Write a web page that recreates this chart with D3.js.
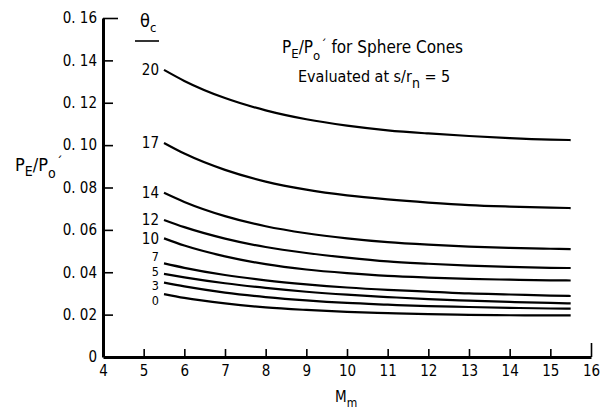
<!DOCTYPE html>
<html>
<head>
<meta charset="utf-8">
<script src="https://cdn.jsdelivr.net/npm/d3@7"></script>
<style>
  body { margin: 0; background: #fff; }
  svg { display: block; }
  text { font-family: "DejaVu Sans Condensed", "Liberation Sans Narrow", sans-serif; fill: #000; }
</style>
</head>
<body>
<svg id="chart" width="612" height="412"></svg>
<script>
'use strict';

// Data
const mach = [5.5, 6, 7, 8, 9, 10, 11, 12, 13, 14, 15, 15.5];
const p20 = [0.1355, 0.1303, 0.1222, 0.1164, 0.1122, 0.1092, 0.1070, 0.1055, 0.1043, 0.1033, 0.1026, 0.1024];
const p17 = [0.1010, 0.0960, 0.0883, 0.0828, 0.0790, 0.0763, 0.0744, 0.0729, 0.0717, 0.0710, 0.0705, 0.0703];
const p14 = [0.0775, 0.0732, 0.0665, 0.0617, 0.0584, 0.0560, 0.0542, 0.0530, 0.0521, 0.0515, 0.0511, 0.0509];
const p12 = [0.0647, 0.0613, 0.0559, 0.0519, 0.0491, 0.0469, 0.0451, 0.0440, 0.0431, 0.0425, 0.0421, 0.0420];
const p10 = [0.0560, 0.0526, 0.0475, 0.0438, 0.0413, 0.0396, 0.0383, 0.0375, 0.0369, 0.0365, 0.0362, 0.0361];
const p7 = [0.0442, 0.0421, 0.0387, 0.0362, 0.0343, 0.0328, 0.0317, 0.0309, 0.0300, 0.0295, 0.0290, 0.0288];
const p5 = [0.0392, 0.0376, 0.0348, 0.0326, 0.0308, 0.0294, 0.0283, 0.0273, 0.0266, 0.0260, 0.0255, 0.0253];
const p3 = [0.0351, 0.0333, 0.0304, 0.0283, 0.0267, 0.0255, 0.0247, 0.0240, 0.0236, 0.0232, 0.0229, 0.0228];
const p0 = [0.0297, 0.0279, 0.0253, 0.0234, 0.0222, 0.0213, 0.0207, 0.0202, 0.0199, 0.0197, 0.0196, 0.0196];
const thetas = ['20', '17', '14', '12', '10', '7', '5', '3', '0'];
const xTicks = [4, 5, 6, 7, 8, 9, 10, 11, 12, 13, 14, 15, 16];
const yTicks = [0, 0.02, 0.04, 0.06, 0.08, 0.10, 0.12, 0.14, 0.16];

const series = [p20, p17, p14, p12, p10, p7, p5, p3, p0].map((vals, i) => ({
    theta: thetas[i],
    points: vals.map((v, j) => [mach[j], v])
}));

// Frame setup
let svg = d3.select('#chart');
svg.append('rect').attr('width', 612).attr('height', 412).attr('fill', '#fff');

let x = d3.scaleLinear().domain([4, 16]).range([103, 591]);
let y = d3.scaleLinear().domain([0, 0.16]).range([357, 18]);

// Axes (ticks point inward like the original)
let yAxis = d3.axisLeft(y)
    .tickValues(yTicks)
    .tickSizeInner(-10)
    .tickSizeOuter(0)
    .tickPadding(6)
    .tickFormat(d => d === 0 ? '0' : d3.format('.2f')(d).replace('.', '. '));

let xAxis = d3.axisBottom(x)
    .tickValues(xTicks)
    .tickSizeInner(-8)
    .tickSizeOuter(0)
    .tickPadding(8)
    .tickFormat(d3.format('d'));

let gy = svg.append('g').attr('transform', `translate(${x(4)},0)`).call(yAxis);
let gx = svg.append('g').attr('transform', `translate(0,${y(0)})`).call(xAxis);

[gx, gy].forEach(g => {
    g.select('.domain').attr('stroke', '#000').attr('stroke-width', 3);
    g.selectAll('.tick line').attr('stroke', '#000').attr('stroke-width', 1.6);
    g.selectAll('.tick text')
        .attr('font-family', '"DejaVu Sans Condensed", "Liberation Sans Narrow", sans-serif')
        .attr('font-size', 15)
        .attr('fill', '#000');
});
// end marks are a little longer
gx.selectAll('.tick line').filter(d => d === 16).attr('y2', -14);
gy.selectAll('.tick line').filter(d => d === 0.16).attr('x2', 15);
gy.selectAll('.tick').filter(d => d === 0).select('line').remove();

// Curves
let line = d3.line()
    .x(d => x(d[0]))
    .y(d => y(d[1]))
    .curve(d3.curveMonotoneX);

svg.append('g').selectAll('path')
    .data(series)
    .enter().append('path')
    .attr('d', d => line(d.points))
    .attr('fill', 'none')
    .attr('stroke', '#000')
    .attr('stroke-width', 2.2);

// Curve labels, spread apart where they crowd
let gap = 14.5;
let labelY = series.map(s => y(s.points[0][1]));
for (let k = 0; k < 200; k++) {
    for (let i = 0; i < labelY.length - 1; i++) {
        let d = labelY[i + 1] - labelY[i];
        if (d < gap) {
            labelY[i] -= (gap - d) / 2;
            labelY[i + 1] += (gap - d) / 2;
        }
    }
}
// crowded labels get a smaller face so they stay clear of each other
let labelSize = labelY.map((v, i) => {
    let near = Math.min(
        i > 0 ? v - labelY[i - 1] : Infinity,
        i < labelY.length - 1 ? labelY[i + 1] - v : Infinity);
    return near < 18 ? 12.5 : 15;
});

svg.append('g').selectAll('text')
    .data(series)
    .enter().append('text')
    .attr('x', x(mach[0]) - 5)
    .attr('y', (d, i) => labelY[i])
    .attr('dy', '0.36em')
    .attr('text-anchor', 'end')
    .attr('font-size', (d, i) => labelSize[i])
    .text(d => d.theta);

// theta_c header with rule
let hx = x(mach[0]) - 17;
let hdr = svg.append('text').attr('x', hx - 7).attr('y', 27).attr('font-size', 18);
hdr.append('tspan').text('θ');
hdr.append('tspan').attr('font-size', 13).attr('dy', 5).text('c');
svg.append('line')
    .attr('x1', hx - 12).attr('x2', hx + 12)
    .attr('y1', 41).attr('y2', 41)
    .attr('stroke', '#000').attr('stroke-width', 1.6);

// P_E/P_o' built from tspans
function pRatio(t, big, small) {
    t.append('tspan').attr('font-size', big).text('P');
    t.append('tspan').attr('dy', 5).attr('font-size', small).text('E');
    t.append('tspan').attr('dy', -5).attr('font-size', big).text('/P');
    t.append('tspan').attr('dy', 7).attr('font-size', small).text('o');
    t.append('tspan').attr('dx', 0.5).attr('dy', -11).attr('font-size', small).text('\u00B4');
}

// Annotation
let t1 = svg.append('text').attr('x', 282).attr('y', 53).attr('font-size', 17);
pRatio(t1, 17, 13);
t1.append('tspan').attr('dy', 4).text(' for Sphere Cones');

let t2 = svg.append('text').attr('x', 298).attr('y', 82).attr('font-size', 16);
t2.append('tspan').text('Evaluated at s/r');
t2.append('tspan').attr('dy', 6).attr('font-size', 14).text('n');
t2.append('tspan').attr('dy', -6).text(' = 5');

// Axis titles
let ty = svg.append('text').attr('x', 15).attr('y', 171).attr('font-size', 18);
pRatio(ty, 18, 14);

let tx = svg.append('text').attr('x', 335).attr('y', 402).attr('font-size', 15);
tx.append('tspan').text('M');
tx.append('tspan').attr('dy', 5).attr('font-size', 12).text('m');
</script>
</body>
</html>
